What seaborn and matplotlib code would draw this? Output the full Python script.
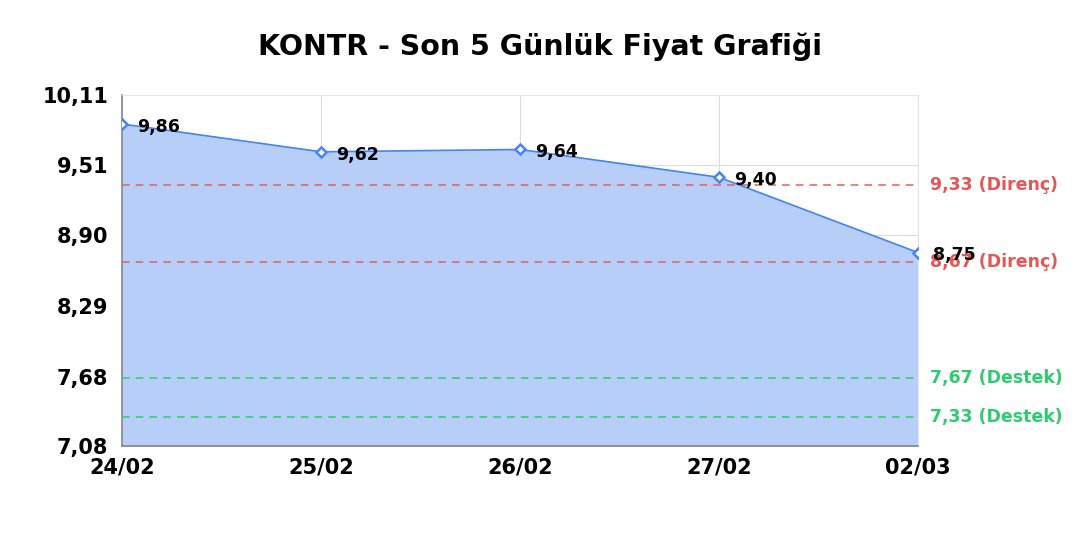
import pandas as pd
import numpy as np
import seaborn as sns
import matplotlib
matplotlib.use('Agg')
import matplotlib.pyplot as plt

# price data for the last 5 days
dates = ['24/02', '25/02', '26/02', '27/02', '02/03']
prices = [9.86, 9.62, 9.64, 9.40, 8.75]

# support / resistance levels
resistance = [9.33, 8.67]
support = [7.67, 7.33]

y_ticks = [7.08, 7.68, 8.29, 8.90, 9.51, 10.11]

df = pd.DataFrame({'date': dates, 'price': prices})
df['pos'] = range(len(df))

sns.set_style('white')
plt.rcParams['font.family'] = ['DejaVu Sans']
plt.rcParams['text.color'] = 'black'
plt.rcParams['xtick.color'] = 'black'
plt.rcParams['ytick.color'] = 'black'

fig = plt.figure(figsize=(10.8, 5.4), dpi=100)
ax = fig.add_axes([0.113, 0.174, 0.737, 0.650])

line_color = '#4285f4'
ax.fill_between(df['pos'], df['price'], y_ticks[0], color='#b7cff8', zorder=1)
sns.lineplot(data=df, x='pos', y='price', color=line_color, linewidth=1.2,
             marker='D', markersize=5.5, markerfacecolor='white',
             markeredgecolor=line_color, markeredgewidth=1.8, ax=ax, zorder=3)

for p, v in zip(df['pos'], df['price']):
    ax.annotate(f'{v:.2f}'.replace('.', ','), (p, v), xytext=(11, -2),
                textcoords='offset points', ha='left', va='center',
                fontsize=12.5, fontweight='bold', color='black', zorder=4)

for lvl in resistance:
    ax.axhline(lvl, color='#e06060', linestyle=(0, (5, 4)), linewidth=1.1, zorder=2)
    ax.text(1.015, lvl, f'{lvl:.2f}'.replace('.', ',') + ' (Direnç)',
            transform=ax.get_yaxis_transform(), color='#e85555',
            fontsize=12.5, fontweight='bold', va='center', ha='left')
for lvl in support:
    ax.axhline(lvl, color='#2ecc71', linestyle=(0, (5, 4)), linewidth=1.1, zorder=2)
    ax.text(1.015, lvl, f'{lvl:.2f}'.replace('.', ',') + ' (Destek)',
            transform=ax.get_yaxis_transform(), color='#2ecc71',
            fontsize=12.5, fontweight='bold', va='center', ha='left')

ax.set_xlim(0, len(dates) - 1)
ax.set_ylim(y_ticks[0], y_ticks[-1])
ax.set_xticks(df['pos'])
ax.set_xticklabels(dates)
ax.set_yticks(y_ticks)
ax.set_yticklabels([f'{t:.2f}'.replace('.', ',') for t in y_ticks])
ax.tick_params(axis='x', labelsize=15, length=0, pad=8)
ax.tick_params(axis='y', labelsize=15, length=0, pad=10)
for lbl in ax.get_xticklabels() + ax.get_yticklabels():
    lbl.set_fontweight('bold')
ax.set_xlabel('')
ax.set_ylabel('')

ax.grid(True, color='#dddddd', linewidth=0.8, zorder=0)
ax.set_axisbelow(True)
for s in ['top', 'right']:
    ax.spines[s].set_color('#e6e6e6')
for s in ['left', 'bottom']:
    ax.spines[s].set_color('#888888')
    ax.spines[s].set_linewidth(1.2)

fig.suptitle('KONTR - Son 5 Günlük Fiyat Grafiği', fontsize=20.5,
             fontweight='bold', y=0.94)

fig.savefig('out.png', dpi=100)
